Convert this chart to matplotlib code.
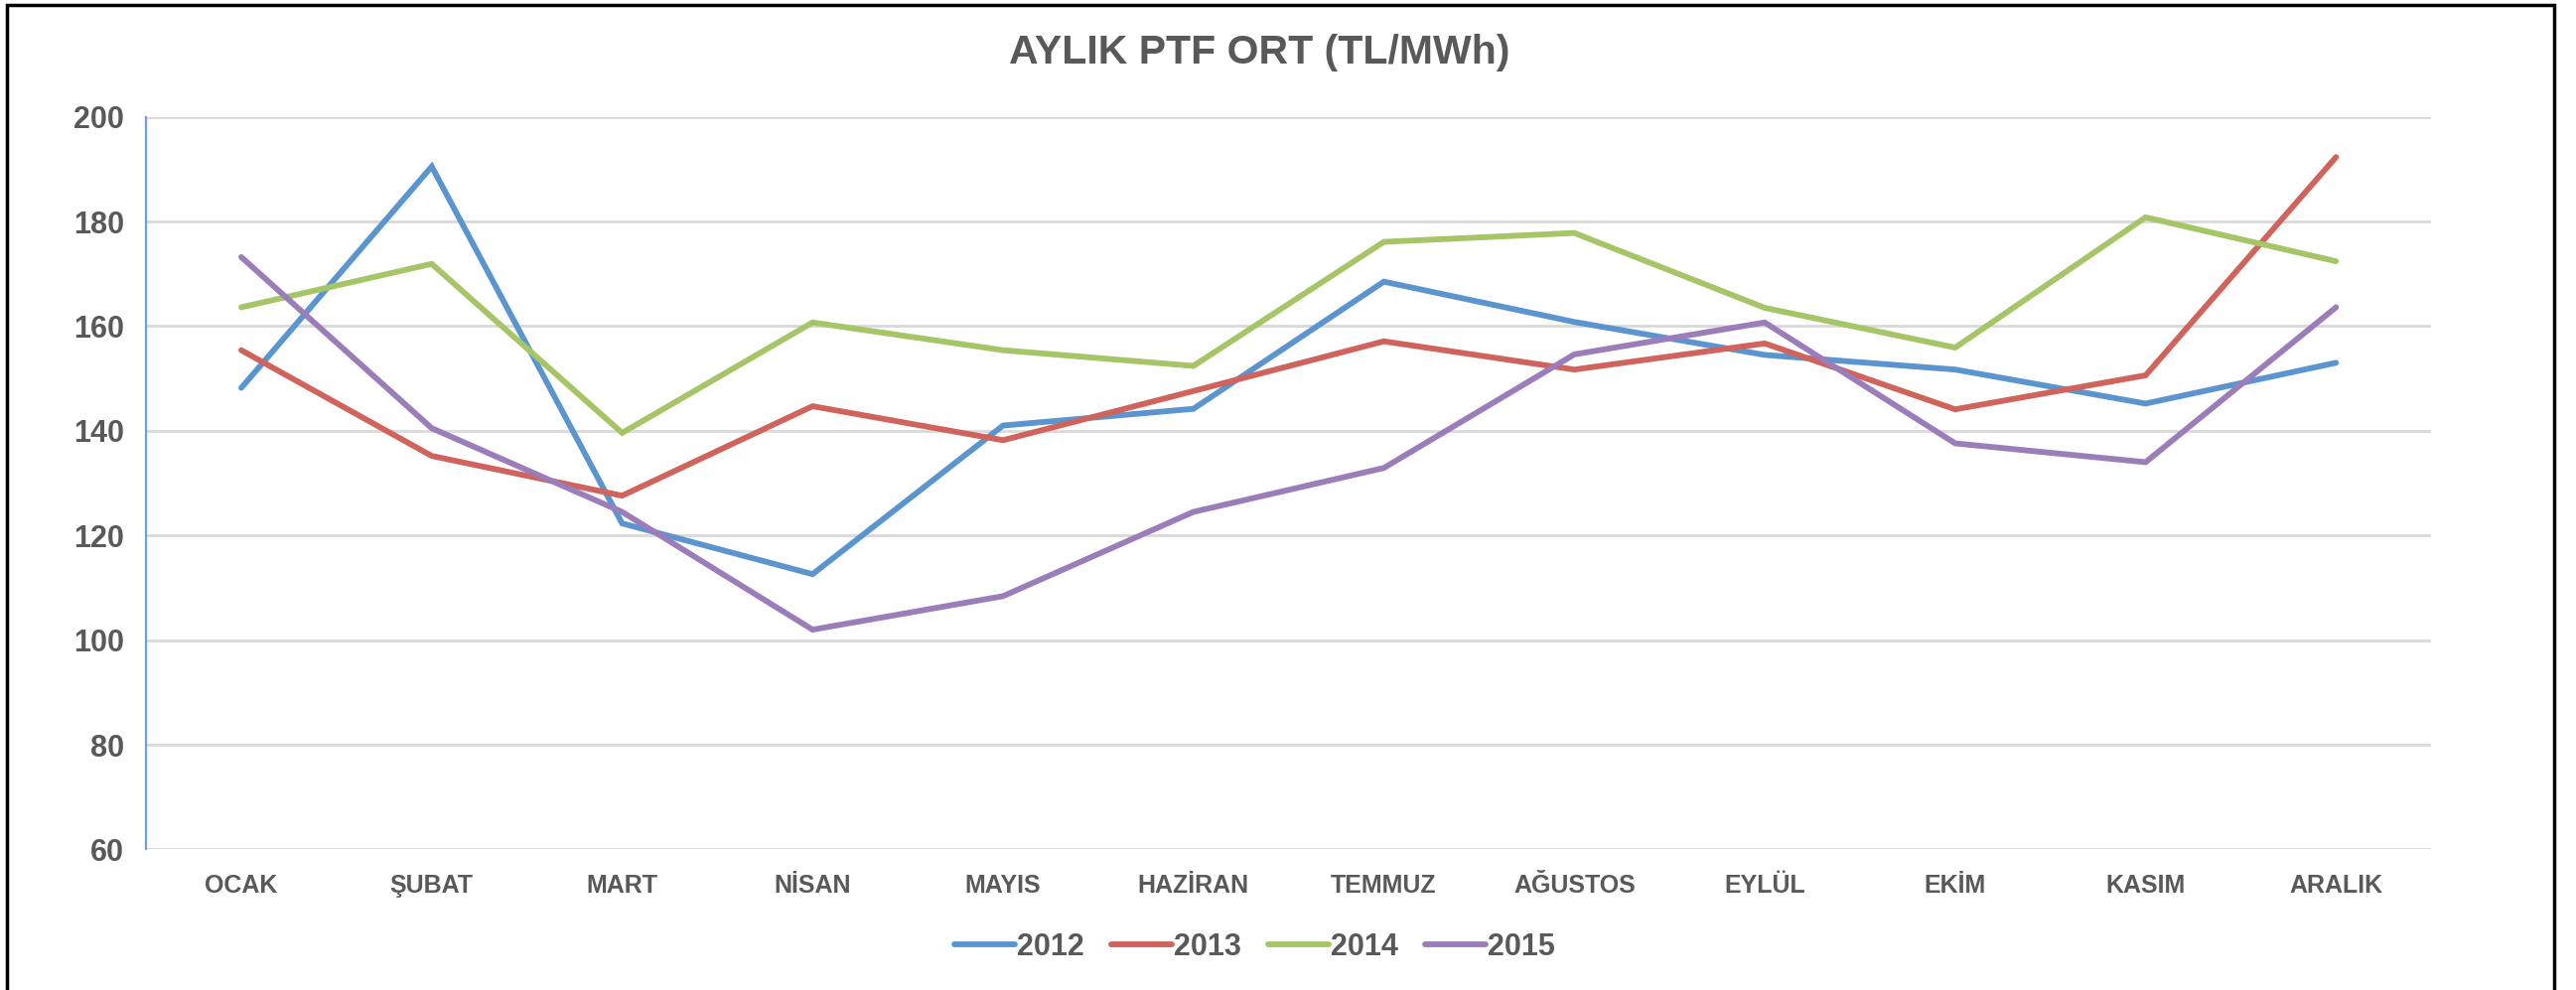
import matplotlib
matplotlib.use("Agg")
import matplotlib.pyplot as plt
from matplotlib.patches import Rectangle

plt.rcParams['font.family'] = ['Liberation Sans', 'DejaVu Sans']

months = ['OCAK', 'ŞUBAT', 'MART', 'NİSAN', 'MAYIS', 'HAZİRAN',
          'TEMMUZ', 'AĞUSTOS', 'EYLÜL', 'EKİM', 'KASIM', 'ARALIK']
years = ['2012', '2013', '2014', '2015']
ptf_2012 = [148.2, 190.5, 122.3, 112.6, 141.0, 144.2, 168.5, 160.8, 154.5, 151.7, 145.2, 153.0]
ptf_2013 = [155.4, 135.2, 127.6, 144.7, 138.2, 147.6, 157.1, 151.7, 156.7, 144.1, 150.6, 192.3]
ptf_2014 = [163.6, 171.9, 139.6, 160.7, 155.4, 152.4, 176.1, 177.8, 163.5, 155.9, 180.8, 172.4]
ptf_2015 = [173.2, 140.5, 124.5, 102.0, 108.4, 124.5, 132.9, 154.6, 160.7, 137.6, 134.0, 163.6]

colors = ['#5B95CF', '#D0635C', '#A6C566', '#9A7DB9']
text_col = '#595959'

fig = plt.figure(figsize=(25.94, 9.97), dpi=100)
ax = fig.add_axes([0.0567, 0.142, 0.8871, 0.740])

x = list(range(len(months)))
for vals, lab, c in zip([ptf_2012, ptf_2013, ptf_2014, ptf_2015], years, colors):
    ax.plot(x, vals, color=c, lw=4.2, label=lab, solid_capstyle='round', solid_joinstyle='miter')

ax.set_xlim(-0.5, 11.5)
ax.set_ylim(60, 200)
ax.set_yticks(range(60, 201, 20))
ax.set_xticks(x)
ax.set_xticklabels(months)
ax.yaxis.grid(True, color='#D9D9D9', lw=2)
ax.set_axisbelow(True)
for s in ['top', 'right', 'bottom']:
    ax.spines[s].set_visible(False)
ax.spines['left'].set_color('#6FA0D8')
ax.spines['left'].set_linewidth(1.6)
ax.tick_params(length=0)
ax.tick_params(axis='y', pad=16, labelsize=22, labelcolor=text_col)
ax.tick_params(axis='x', pad=18, labelsize=18, labelcolor=text_col)
for t in ax.get_xticklabels() + ax.get_yticklabels():
    t.set_fontweight('bold')

fig.text(0.489, 0.947, 'AYLIK PTF ORT (TL/MWh)', ha='center', va='center',
         fontsize=29.5, fontweight='bold', color=text_col)

leg = fig.legend(loc='center', bbox_to_anchor=(0.487, 0.043), ncol=4, frameon=False,
                 handlelength=2.0, handletextpad=0.05, columnspacing=0.9,
                 prop={'size': 22, 'weight': 'bold'})
for t in leg.get_texts():
    t.set_color(text_col)

fig.patches.append(Rectangle((0.0027, -0.05), 0.9888, 1.045, transform=fig.transFigure,
                             fill=False, edgecolor='black', lw=2.5))

fig.savefig('out.png', dpi=100, facecolor='white')
